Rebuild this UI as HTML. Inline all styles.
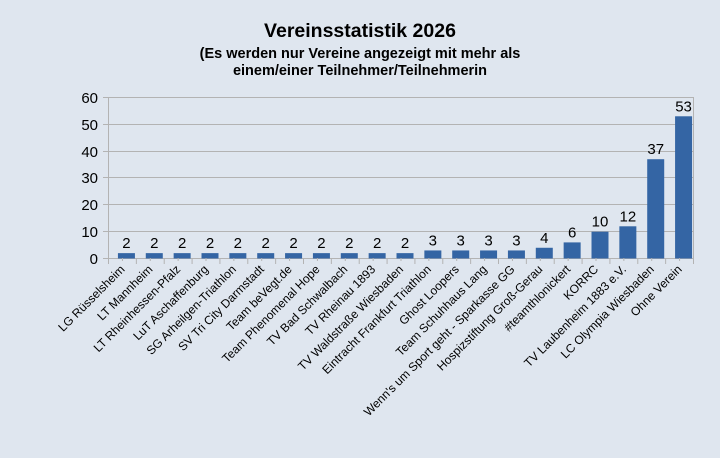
<!DOCTYPE html>
<html><head><meta charset="utf-8"><style>
html,body{margin:0;padding:0;background:#dfe6ef;}
svg{display:block;font-family:"Liberation Sans",sans-serif;}
</style></head><body>
<svg width="720" height="458" viewBox="0 0 720 458" xmlns="http://www.w3.org/2000/svg">
<rect width="720" height="458" fill="#dfe6ef"/>
<text x="360" y="37" text-anchor="middle" font-size="19.5" font-weight="bold" fill="#000">Vereinsstatistik 2026</text>
<text x="360" y="58" text-anchor="middle" font-size="14.5" font-weight="bold" fill="#000">(Es werden nur Vereine angezeigt mit mehr als</text>
<text x="360" y="75" text-anchor="middle" font-size="14.5" font-weight="bold" fill="#000">einem/einer Teilnehmer/Teilnehmerin</text>
<g stroke="#b3b3b3" stroke-width="1">
<line x1="103" y1="97.5" x2="693" y2="97.5"/>
<line x1="103" y1="124.5" x2="693" y2="124.5"/>
<line x1="103" y1="151.5" x2="693" y2="151.5"/>
<line x1="103" y1="177.5" x2="693" y2="177.5"/>
<line x1="103" y1="204.5" x2="693" y2="204.5"/>
<line x1="103" y1="231.5" x2="693" y2="231.5"/>
<line x1="103" y1="258.5" x2="693" y2="258.5"/>
<line x1="108.5" y1="97" x2="108.5" y2="263"/>
<line x1="693.5" y1="97" x2="693.5" y2="263"/>
</g>
<g font-size="15" fill="#000" text-anchor="end">
<text x="98" y="103">60</text><text x="98" y="130">50</text><text x="98" y="157">40</text>
<text x="98" y="183">30</text><text x="98" y="210">20</text><text x="98" y="237">10</text>
<text x="98" y="264">0</text>
</g>
<g id="bars"></g>
<g id="lbl" font-size="12" fill="#000" text-anchor="end"></g>
<g id="val" font-size="15" fill="#000" text-anchor="middle"></g>
<g id="ticks" stroke="#b3b3b3"></g>
</svg>
<script>
var names=["LG Rüsselsheim","LT Mannheim","LT Rheinhessen-Pfalz","LuT Aschaffenburg","SG Arheilgen-Triathlon","SV Tri City Darmstadt","Team beVegt.de","Team Phenomenal Hope","TV Bad Schwalbach","TV Rheinau 1893","TV Waldstraße Wiesbaden","Eintracht Frankfurt Triathlon","Ghost Loopers","Team Schuhhaus Lang","Wenn's um Sport geht - Sparkasse GG","Hospizstiftung Groß-Gerau","#teamthlonickert","KORRC","TV Laubenheim 1883 e.V.","LC Olympia Wiesbaden","Ohne Verein"];
var v=[2,2,2,2,2,2,2,2,2,2,2,3,3,3,3,4,6,10,12,37,53];
var ns="http://www.w3.org/2000/svg",x0=108.5,w=585/21,y0=258.5,s=161/60;
function el(t,a,p,txt){var e=document.createElementNS(ns,t);for(var k in a)e.setAttribute(k,a[k]);if(txt!=null)e.textContent=txt;document.getElementById(p).appendChild(e);}
for(var i=0;i<21;i++){var cx=x0+w*(i+0.5),h=v[i]*s,bx=cx+4;
el("rect",{x:bx-8.5,y:y0-h,width:17,height:h,fill:"#3465a4"},"bars");
el("text",{x:bx,y:y0-h-5},"val",v[i]);
el("line",{x1:x0+w*i,y1:258,x2:x0+w*i,y2:264},"ticks");
el("line",{x1:cx,y1:258,x2:cx,y2:261},"ticks");
el("text",{x:cx+3,y:270,transform:"rotate(-45 "+(cx+3)+" 270)"},"lbl",names[i]);}
el("line",{x1:693.5,y1:258,x2:693.5,y2:264},"ticks");
</script>
</body></html>
